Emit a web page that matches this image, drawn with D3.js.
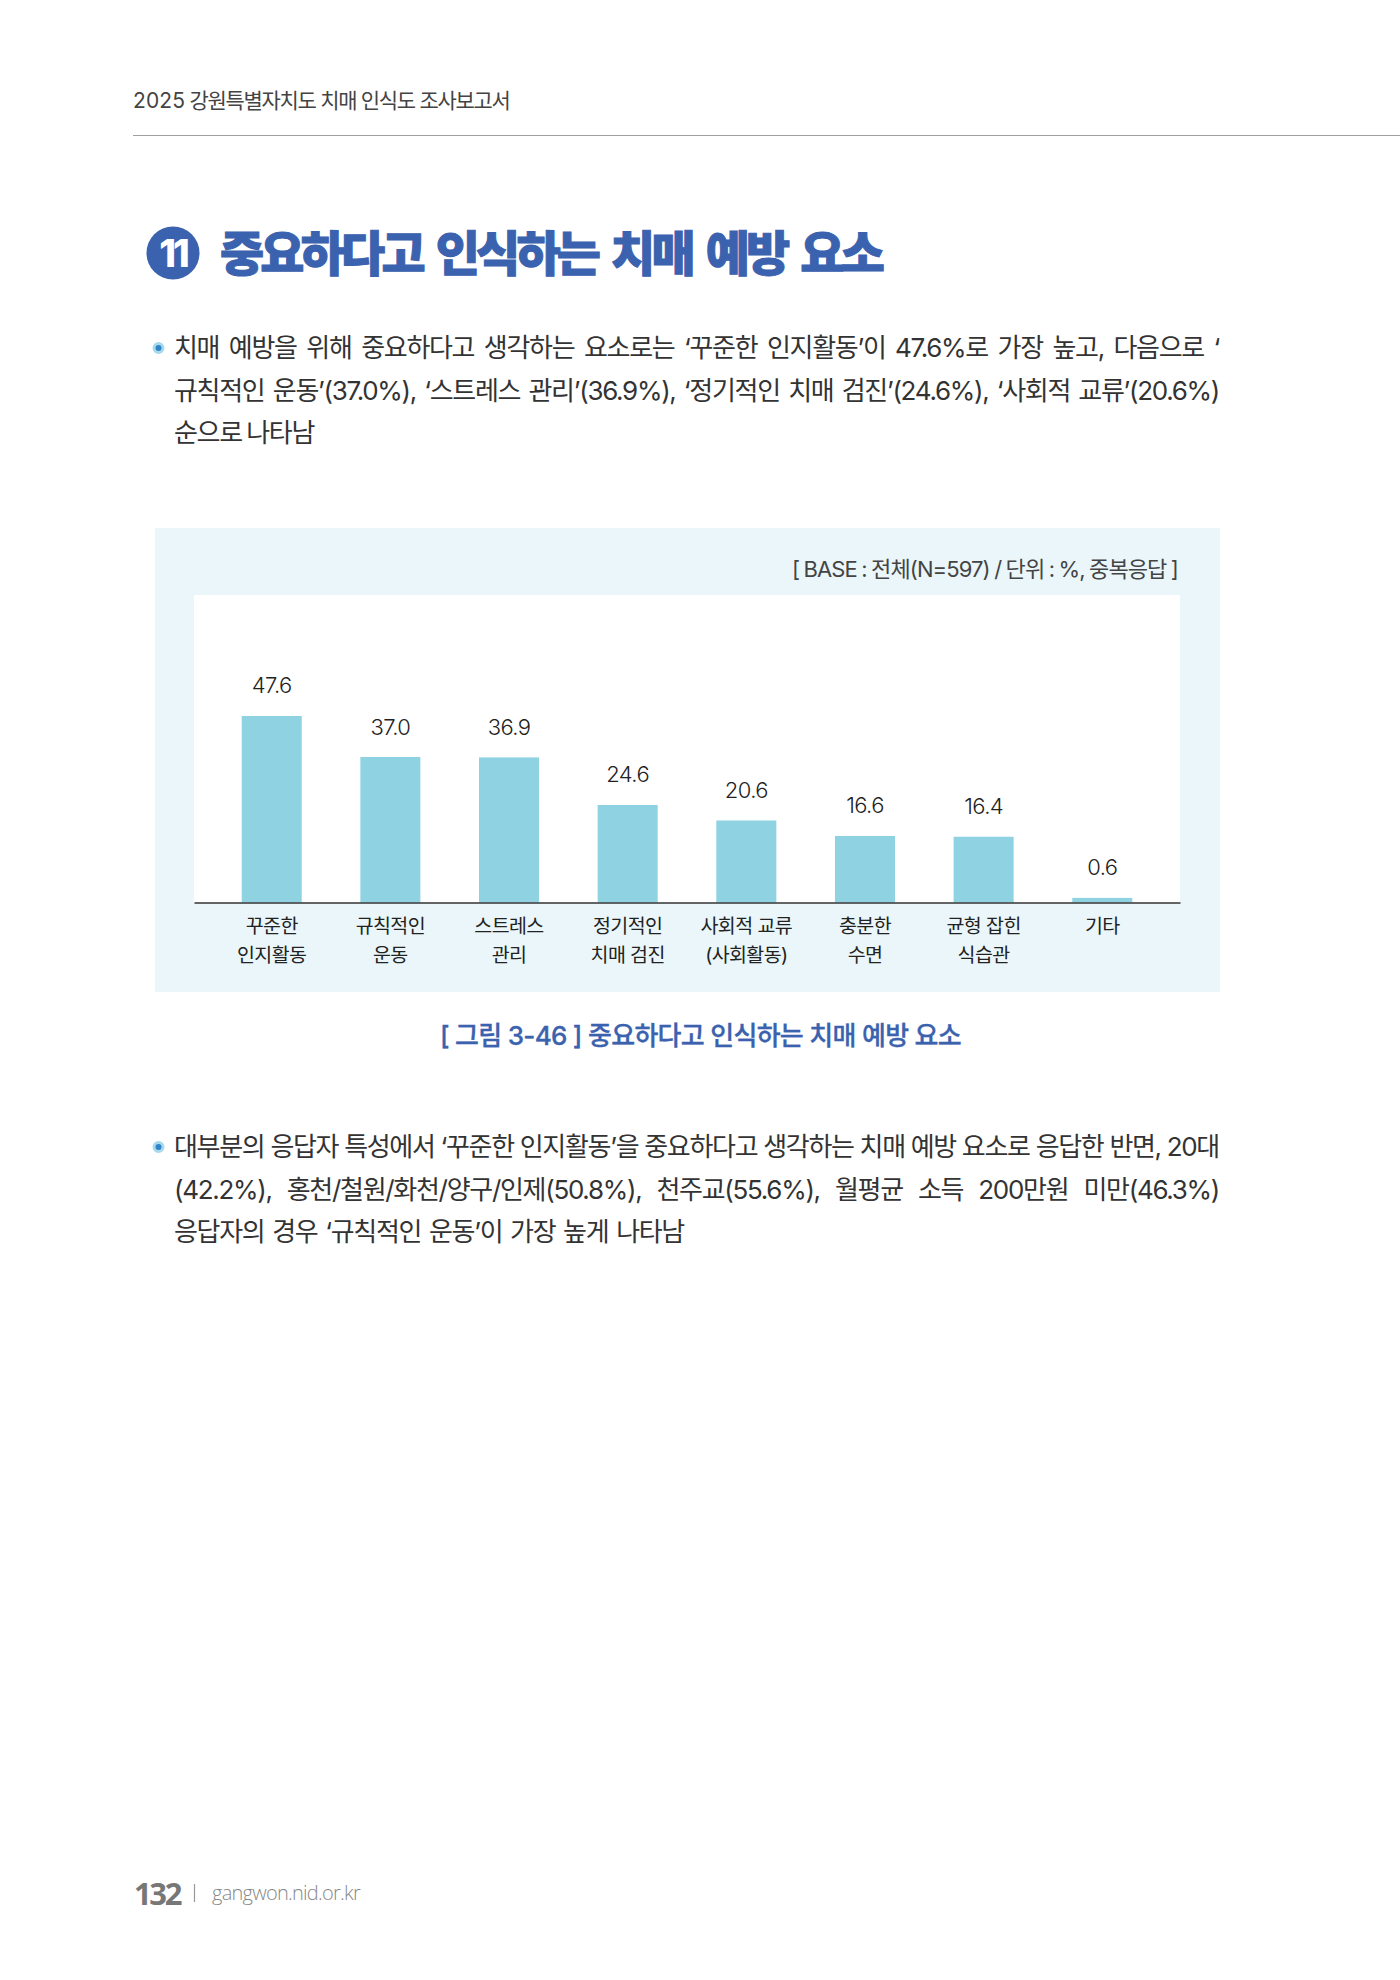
<!DOCTYPE html>
<html lang="ko">
<head>
<meta charset="utf-8">
<title>중요하다고 인식하는 치매 예방 요소</title>
<script src="https://cdn.jsdelivr.net/npm/d3@7"></script>
<style>
  html, body { margin: 0; padding: 0; background: #fff; }
  svg { display: block; }
  text { font-family: Inter, "Noto Sans CJK KR", sans-serif; }
</style>
</head>
<body>
<svg id="page" width="1400" height="1980"></svg>
<script>
// Survey results
const categories = [
  ["꾸준한", "인지활동"],
  ["규칙적인", "운동"],
  ["스트레스", "관리"],
  ["정기적인", "치매 검진"],
  ["사회적 교류", "(사회활동)"],
  ["충분한", "수면"],
  ["균형 잡힌", "식습관"],
  ["기타"]
];
const values = [47.6, 37.0, 36.9, 24.6, 20.6, 16.6, 16.4, 0.6];
const valueLabels = ["47.6", "37.0", "36.9", "24.6", "20.6", "16.6", "16.4", "0.6"];

// Page copy
const headerYear = "2025";
const headerText = "강원특별자치도 치매 인식도 조사보고서";
const sectionNumber = "11";
const sectionTitle = "중요하다고 인식하는 치매 예방 요소";
const introLines = [
  "치매 예방을 위해 중요하다고 생각하는 요소로는 ‘꾸준한 인지활동’이 47.6%로 가장 높고, 다음으로 ‘",
  "규칙적인 운동’(37.0%), ‘스트레스 관리’(36.9%), ‘정기적인 치매 검진’(24.6%), ‘사회적 교류’(20.6%)",
  "순으로 나타남"
];
const baseNote = "[ BASE : 전체(N=597) / 단위 : %, 중복응답 ]";
const figureCaption = "[ 그림 3-46 ] 중요하다고 인식하는 치매 예방 요소";
const detailLines = [
  "대부분의 응답자 특성에서 ‘꾸준한 인지활동’을 중요하다고 생각하는 치매 예방 요소로 응답한 반면, 20대",
  "(42.2%), 홍천/철원/화천/양구/인제(50.8%), 천주교(55.6%), 월평균 소득 200만원 미만(46.3%)",
  "응답자의 경우 ‘규칙적인 운동’이 가장 높게 나타남"
];
const pageNumber = "132";
const siteName = "gangwon.nid.or.kr";

const svg = d3.select("#page");
const BLUE = "#3b62ae";

// Adjusts letter spacing so a string spans a given width
function fitWidth(sel, width) {
  const n = sel.text().length;
  const w = sel.node().getComputedTextLength();
  sel.attr("letter-spacing", ((width - w) / n).toFixed(3));
  return sel;
}

// Stretches the word gaps so a line fills a given width
function justify(sel, width, spacing) {
  sel.attr("letter-spacing", spacing);
  const gaps = sel.text().split(" ").length - 1;
  const w = sel.node().getComputedTextLength();
  sel.attr("word-spacing", ((width - w) / gaps).toFixed(3));
  return sel;
}

// Running header
fitWidth(svg.append("text").attr("x", 133).attr("y", 108)
  .attr("font-size", 21).attr("fill", "#444").text(headerYear), 52);
fitWidth(svg.append("text").attr("x", 189.5).attr("y", 108)
  .attr("font-size", 21).attr("fill", "#444").text(headerText), 320);
svg.append("line").attr("x1", 133).attr("x2", 1400).attr("y1", 135.5).attr("y2", 135.5)
  .attr("stroke", "#a0a0a0").attr("stroke-width", 1.2);

// Section heading
svg.append("circle").attr("cx", 173).attr("cy", 253).attr("r", 26.5).attr("fill", BLUE);
svg.append("text").attr("x", 173).attr("y", 267).attr("text-anchor", "middle")
  .attr("font-size", 38).attr("font-weight", 800).attr("fill", "#fff")
  .attr("letter-spacing", -3).text(sectionNumber);
justify(svg.append("text").attr("x", 220).attr("y", 271)
  .attr("font-size", 48).attr("font-weight", 900).attr("fill", BLUE)
  .attr("stroke", BLUE).attr("stroke-width", 1).text(sectionTitle), 661, -3.8);

// Body paragraphs with a round bullet and justified lines
function paragraph(lines, baselines, lastWidth) {
  const left = 174, right = 1219;
  svg.append("circle").attr("cx", 158.5).attr("cy", baselines[0] - 9).attr("r", 4.5)
    .attr("fill", "#2e84c6").attr("stroke", "#a8d8ec").attr("stroke-width", 3);
  lines.forEach((line, i) => {
    const t = svg.append("text").attr("x", left).attr("y", baselines[i])
      .attr("font-size", 26).attr("fill", "#333").text(line);
    justify(t, i < lines.length - 1 ? right - left : lastWidth, -1.3);
  });
}
paragraph(introLines, [357, 400, 442], 140);
paragraph(detailLines, [1156, 1199, 1241], 510);

// Chart panel
svg.append("rect").attr("x", 155).attr("y", 528).attr("width", 1065).attr("height", 464).attr("fill", "#eaf6f9");
svg.append("rect").attr("x", 194).attr("y", 595).attr("width", 986).attr("height", 308).attr("fill", "#fff");
justify(svg.append("text").attr("x", 792).attr("y", 577)
  .attr("font-size", 22).attr("fill", "#444").text(baseNote), 386, -0.9);

const x = d3.scaleBand()
  .domain(d3.range(categories.length))
  .range([194, 1180])
  .paddingInner(0.494)
  .paddingOuter(0.402);
const axisY = 902.5;
// Zero sits just above the axis rule; every bar runs down to the rule
const y = d3.scaleLinear().domain([0, 50]).range([900.2, 706.7]);

svg.append("g").selectAll("rect").data(values).join("rect")
  .attr("x", (d, i) => x(i))
  .attr("width", x.bandwidth())
  .attr("y", d => y(d))
  .attr("height", d => axisY - y(d))
  .attr("fill", "#8fd3e3");

svg.append("g").selectAll("text").data(values).join("text")
  .attr("x", (d, i) => x(i) + x.bandwidth() / 2)
  .attr("y", d => y(d) - 22.5)
  .attr("text-anchor", "middle")
  .attr("font-size", 22).attr("font-weight", 300).attr("letter-spacing", -0.6)
  .attr("fill", "#222")
  .text((d, i) => valueLabels[i]);

// Category axis with two-line labels
const axis = svg.append("g").attr("transform", `translate(0,${axisY})`)
  .call(d3.axisBottom(x).tickSize(0).tickSizeOuter(0).tickFormat(""));
axis.select(".domain").attr("stroke", "#333").attr("stroke-width", 1.4);
axis.selectAll(".tick text")
  .attr("font-size", 19.5).attr("fill", "#222").attr("letter-spacing", -0.6)
  .style("font-family", 'Inter, "Noto Sans CJK KR", sans-serif')
  .attr("y", 0).attr("dy", null)
  .each(function (d) {
    d3.select(this).selectAll("tspan").data(categories[d]).join("tspan")
      .attr("x", 0)
      .attr("y", (s, i) => 30.5 + i * 28.5)
      .text(s => s);
  });

// Figure caption
fitWidth(svg.append("text").attr("x", 440).attr("y", 1045)
  .attr("font-size", 26).attr("font-weight", 500).attr("fill", BLUE)
  .attr("stroke", BLUE).attr("stroke-width", 0.3).text(figureCaption), 521);

// Page footer
fitWidth(svg.append("text").attr("x", 134).attr("y", 1905).attr("font-size", 31).attr("font-weight", 700)
  .attr("fill", "#777").style("font-family", '"Open Sans", sans-serif').text(pageNumber), 46);
svg.append("line").attr("x1", 194.5).attr("x2", 194.5).attr("y1", 1884).attr("y2", 1902)
  .attr("stroke", "#999").attr("stroke-width", 1.2);
fitWidth(svg.append("text").attr("x", 212).attr("y", 1900).attr("font-size", 20).attr("font-weight", 300)
  .attr("fill", "#888").style("font-family", '"Open Sans", sans-serif').text(siteName), 148);
</script>
</body>
</html>
